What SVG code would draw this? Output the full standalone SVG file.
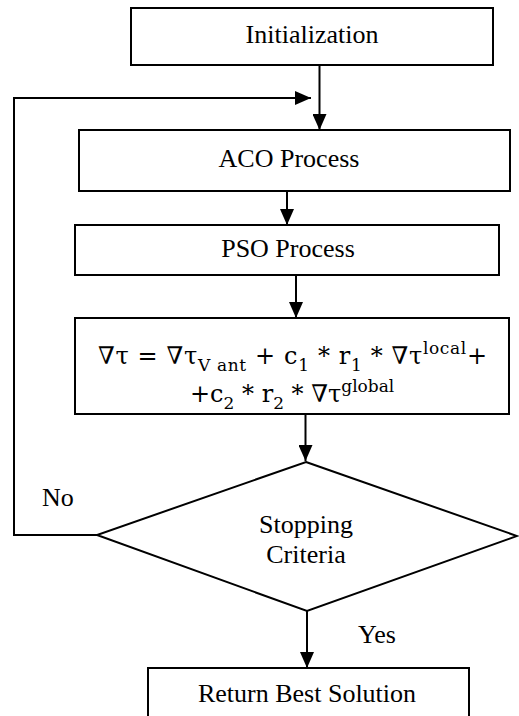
<svg xmlns="http://www.w3.org/2000/svg" width="519" height="716" viewBox="0 0 519 716">
  <style>
    .box { fill: #ffffff; stroke: #000000; stroke-width: 2; }
    .line { fill: none; stroke: #000000; stroke-width: 2; }
    .lbl { font-family: "Liberation Serif", "Times New Roman", serif; font-size: 26px; fill: #000000; }
    .math { font-family: "DejaVu Serif", "Liberation Serif", serif; font-size: 24px; fill: #000000; }
  </style>
  <defs>
    <marker id="arrow" markerUnits="userSpaceOnUse" markerWidth="16" markerHeight="14" viewBox="0 0 16 14" refX="16" refY="7" orient="auto">
      <path d="M0,0 L16,7 L0,14 Z" fill="#000000"/>
    </marker>
  </defs>

  <rect width="519" height="716" fill="#ffffff"/>

  <g id="connectors">
    <line class="line" x1="319.5" y1="65" x2="319.5" y2="130" marker-end="url(#arrow)"/>
    <polyline class="line" points="99,535 14,535 14,98 311,98" marker-end="url(#arrow)"/>
    <line class="line" x1="287" y1="191" x2="287" y2="225" marker-end="url(#arrow)"/>
    <line class="line" x1="296" y1="275" x2="296" y2="318" marker-end="url(#arrow)"/>
    <line class="line" x1="305.5" y1="414" x2="305.5" y2="461" marker-end="url(#arrow)"/>
    <line class="line" x1="307" y1="611" x2="307" y2="668" marker-end="url(#arrow)"/>
    <text class="lbl" x="42" y="506">No</text>
    <text class="lbl" x="358" y="643">Yes</text>
  </g>

  <g id="init">
    <rect class="box" x="131" y="8" width="362" height="57"/>
    <text class="lbl" x="312" y="43" text-anchor="middle">Initialization</text>
  </g>

  <g id="aco">
    <rect class="box" x="79" y="130" width="431" height="61"/>
    <text class="lbl" x="289" y="167" text-anchor="middle">ACO Process</text>
  </g>

  <g id="pso">
    <rect class="box" x="75" y="225" width="424" height="50"/>
    <text class="lbl" x="288" y="257" text-anchor="middle">PSO Process</text>
  </g>

  <g id="update">
    <rect class="box" x="75" y="318" width="434" height="96"/>
    <text class="math" x="98" y="364" textLength="389" lengthAdjust="spacing">∇τ = ∇τ<tspan font-size="17" dy="7">V ant</tspan><tspan dy="-7"> + c</tspan><tspan font-size="17" dy="7">1</tspan><tspan dy="-7"> * r</tspan><tspan font-size="17" dy="7">1</tspan><tspan dy="-7"> * ∇τ</tspan><tspan font-size="17" dy="-10">local</tspan><tspan dy="10">+</tspan></text>
    <text class="math" x="190" y="402">+c<tspan font-size="17" dy="7">2</tspan><tspan dy="-7"> * r</tspan><tspan font-size="17" dy="7">2</tspan><tspan dy="-7"> * ∇τ</tspan><tspan font-size="17" dy="-10">global</tspan></text>
  </g>

  <g id="stop">
    <polygon class="box" points="306,462 517,536 307,611 97,535"/>
    <text class="lbl" x="306" y="533" text-anchor="middle">Stopping</text>
    <text class="lbl" x="306" y="563" text-anchor="middle">Criteria</text>
  </g>

  <g id="result">
    <rect class="box" x="148" y="668" width="321" height="60"/>
    <text class="lbl" x="307" y="702" text-anchor="middle">Return Best Solution</text>
  </g>
</svg>
